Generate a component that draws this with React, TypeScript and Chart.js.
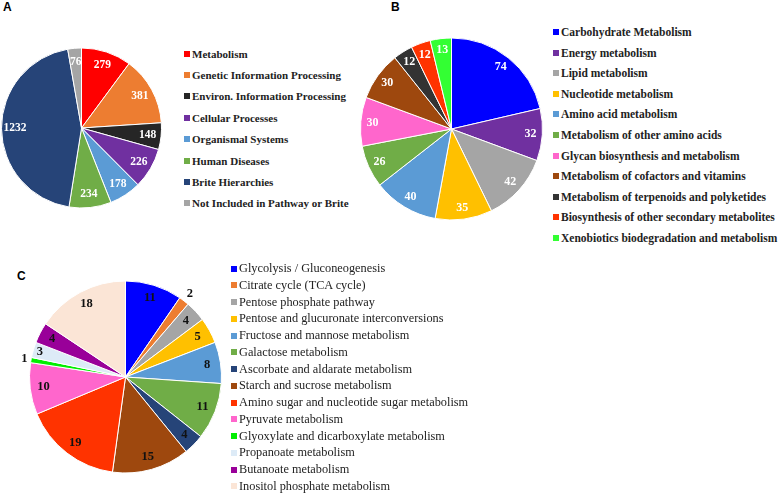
import React, { useEffect, useRef } from "react";
import { Chart, registerables } from "chart.js";

Chart.register(...registerables);

// ---------- Panel A ----------
const catsA = [
  "Metabolism",
  "Genetic Information Processing",
  "Environ. Information Processing",
  "Cellular Processes",
  "Organismal Systems",
  "Human Diseases",
  "Brite Hierarchies",
  "Not Included in Pathway or Brite",
];
const valsA = [279, 381, 148, 226, 178, 234, 1232, 76];
const colorsA = ["#FF0000", "#ED7D31", "#262626", "#7030A0", "#5B9BD5", "#70AD47", "#264478", "#A5A5A5"];

// ---------- Panel B ----------
const catsB = [
  "Carbohydrate Metabolism",
  "Energy metabolism",
  "Lipid metabolism",
  "Nucleotide metabolism",
  "Amino acid metabolism",
  "Metabolism of other amino acids",
  "Glycan biosynthesis and metabolism",
  "Metabolism of cofactors and vitamins",
  "Metabolism of terpenoids and polyketides",
  "Biosynthesis of other secondary metabolites",
  "Xenobiotics biodegradation and metabolism",
];
const valsB = [74, 32, 42, 35, 40, 26, 30, 30, 12, 12, 13];
const colorsB = ["#0000FF", "#7030A0", "#A5A5A5", "#FFC000", "#5B9BD5", "#70AD47", "#FF66CC", "#9E480E", "#333333", "#FF3300", "#33FF33"];

// ---------- Panel C ----------
const catsC = [
  "Glycolysis / Gluconeogenesis",
  "Citrate cycle (TCA cycle)",
  "Pentose phosphate pathway",
  "Pentose and glucuronate interconversions",
  "Fructose and mannose metabolism",
  "Galactose metabolism",
  "Ascorbate and aldarate metabolism",
  "Starch and sucrose metabolism",
  "Amino sugar and nucleotide sugar metabolism",
  "Pyruvate metabolism",
  "Glyoxylate and dicarboxylate metabolism",
  "Propanoate metabolism",
  "Butanoate metabolism",
  "Inositol phosphate metabolism",
];
const valsC = [11, 2, 4, 5, 8, 11, 4, 15, 19, 10, 1, 3, 4, 18];
const colorsC = ["#0000FF", "#ED7D31", "#A5A5A5", "#FFC000", "#5B9BD5", "#70AD47", "#264478", "#9E480E", "#FF3300", "#FF66CC", "#00EE00", "#DDEBF7", "#990099", "#FBE5D6"];

type PieSpec = {
  labels: string[];
  values: number[];
  colors: string[];
  box: { left: number; top: number; width: number; height: number };
  cx: number;
  cy: number;
  r: number;
  labelColor: string;
  labelFont: string;
  factor: number;
  overrides: Record<number, number>;
};

function makeLabelPlugin(spec: PieSpec) {
  return {
    id: "sliceLabels",
    afterDatasetsDraw(chart: any) {
      const ctx = chart.ctx;
      const meta = chart.getDatasetMeta(0);
      const data = chart.data.datasets[0].data;
      ctx.save();
      ctx.fillStyle = spec.labelColor;
      ctx.font = spec.labelFont;
      ctx.textAlign = "center";
      ctx.textBaseline = "middle";
      meta.data.forEach((arc: any, i: number) => {
        const p = arc.getProps(["x", "y", "startAngle", "endAngle", "outerRadius"], true);
        const mid = (p.startAngle + p.endAngle) / 2;
        const f = spec.overrides[i] ?? spec.factor;
        ctx.fillText(String(data[i]), p.x + Math.cos(mid) * p.outerRadius * f, p.y + Math.sin(mid) * p.outerRadius * f);
      });
      ctx.restore();
    },
  };
}

function PieCanvas({ spec }: { spec: PieSpec }) {
  const ref = useRef<HTMLCanvasElement | null>(null);
  useEffect(() => {
    if (!ref.current) return;
    const b = spec.box;
    const chart = new Chart(ref.current, {
      type: "pie",
      data: {
        labels: spec.labels,
        datasets: [
          {
            data: spec.values,
            backgroundColor: spec.colors,
            borderColor: "#ffffff",
            borderWidth: 1,
            hoverOffset: 0,
            offset: 0,
          },
        ],
      },
      options: {
        animation: false,
        responsive: false,
        maintainAspectRatio: false,
        events: [],
        layout: {
          padding: {
            left: spec.cx - spec.r - b.left,
            top: spec.cy - spec.r - b.top,
            right: b.left + b.width - (spec.cx + spec.r),
            bottom: b.top + b.height - (spec.cy + spec.r),
          },
        },
        plugins: {
          legend: { display: false },
          tooltip: { enabled: false },
        },
      },
      plugins: [makeLabelPlugin(spec)],
    } as any);
    return () => chart.destroy();
  }, [spec]);
  const b = spec.box;
  return (
    <canvas
      ref={ref}
      width={b.width}
      height={b.height}
      style={{ position: "absolute", left: b.left, top: b.top, width: b.width, height: b.height }}
    />
  );
}

function Legend({
  labels,
  colors,
  left,
  firstY,
  step,
  font,
  marker,
  gap,
}: {
  labels: string[];
  colors: string[];
  left: number;
  firstY: number;
  step: number;
  font: string;
  marker: number;
  gap: number;
}) {
  return (
    <>
      {labels.map((l, i) => (
        <div
          key={l}
          style={{
            position: "absolute",
            left,
            top: firstY + i * step - 10,
            height: 20,
            display: "flex",
            alignItems: "center",
            whiteSpace: "nowrap",
            font,
            color: "#222",
          }}
        >
          <span style={{ display: "inline-block", width: marker, height: marker, background: colors[i], marginRight: gap }} />
          <span>{l}</span>
        </div>
      ))}
    </>
  );
}

const specA: PieSpec = {
  labels: catsA,
  values: valsA,
  colors: colorsA,
  box: { left: 0, top: 30, width: 180, height: 200 },
  cx: 81.5,
  cy: 128,
  r: 80.5,
  labelColor: "#ffffff",
  labelFont: "bold 11.5px 'Liberation Serif', 'Times New Roman', serif",
  factor: 0.83,
  overrides: {},
};

const specB: PieSpec = {
  labels: catsB,
  values: valsB,
  colors: colorsB,
  box: { left: 350, top: 25, width: 200, height: 210 },
  cx: 451.5,
  cy: 129,
  r: 91.5,
  labelColor: "#ffffff",
  labelFont: "bold 12px 'Liberation Serif', 'Times New Roman', serif",
  factor: 0.87,
  overrides: {},
};

const specC: PieSpec = {
  labels: catsC,
  values: valsC,
  colors: colorsC,
  box: { left: 0, top: 262, width: 240, height: 231 },
  cx: 125.5,
  cy: 377,
  r: 96.5,
  labelColor: "#111111",
  labelFont: "bold 12.5px 'Liberation Serif', 'Times New Roman', serif",
  factor: 0.86,
  overrides: { 1: 1.1, 10: 1.07, 11: 0.93 },
};

const letterStyle: React.CSSProperties = {
  position: "absolute",
  font: "bold 12px 'Liberation Sans', Arial, sans-serif",
  color: "#000",
  lineHeight: "12px",
};

export default function App() {
  return (
    <div style={{ position: "fixed", left: 0, top: 0, width: 778, height: 493, background: "#ffffff", overflow: "hidden" }}>
      <div style={{ ...letterStyle, left: 3, top: 1 }}>A</div>
      <div style={{ ...letterStyle, left: 391, top: 1 }}>B</div>
      <div style={{ ...letterStyle, left: 17, top: 270 }}>C</div>

      <PieCanvas spec={specA} />
      <PieCanvas spec={specB} />
      <PieCanvas spec={specC} />

      <Legend
        labels={catsA}
        colors={colorsA}
        left={184}
        firstY={53.5}
        step={21.4}
        font="bold 11px 'Liberation Serif', 'Times New Roman', serif"
        marker={6}
        gap={2}
      />
      <Legend
        labels={catsB}
        colors={colorsB}
        left={553}
        firstY={32}
        step={20.6}
        font="bold 11.5px 'Liberation Serif', 'Times New Roman', serif"
        marker={6}
        gap={2}
      />
      <Legend
        labels={catsC}
        colors={colorsC}
        left={231}
        firstY={268.5}
        step={16.75}
        font="12.3px 'Liberation Serif', 'Times New Roman', serif"
        marker={6}
        gap={2}
      />
    </div>
  );
}
